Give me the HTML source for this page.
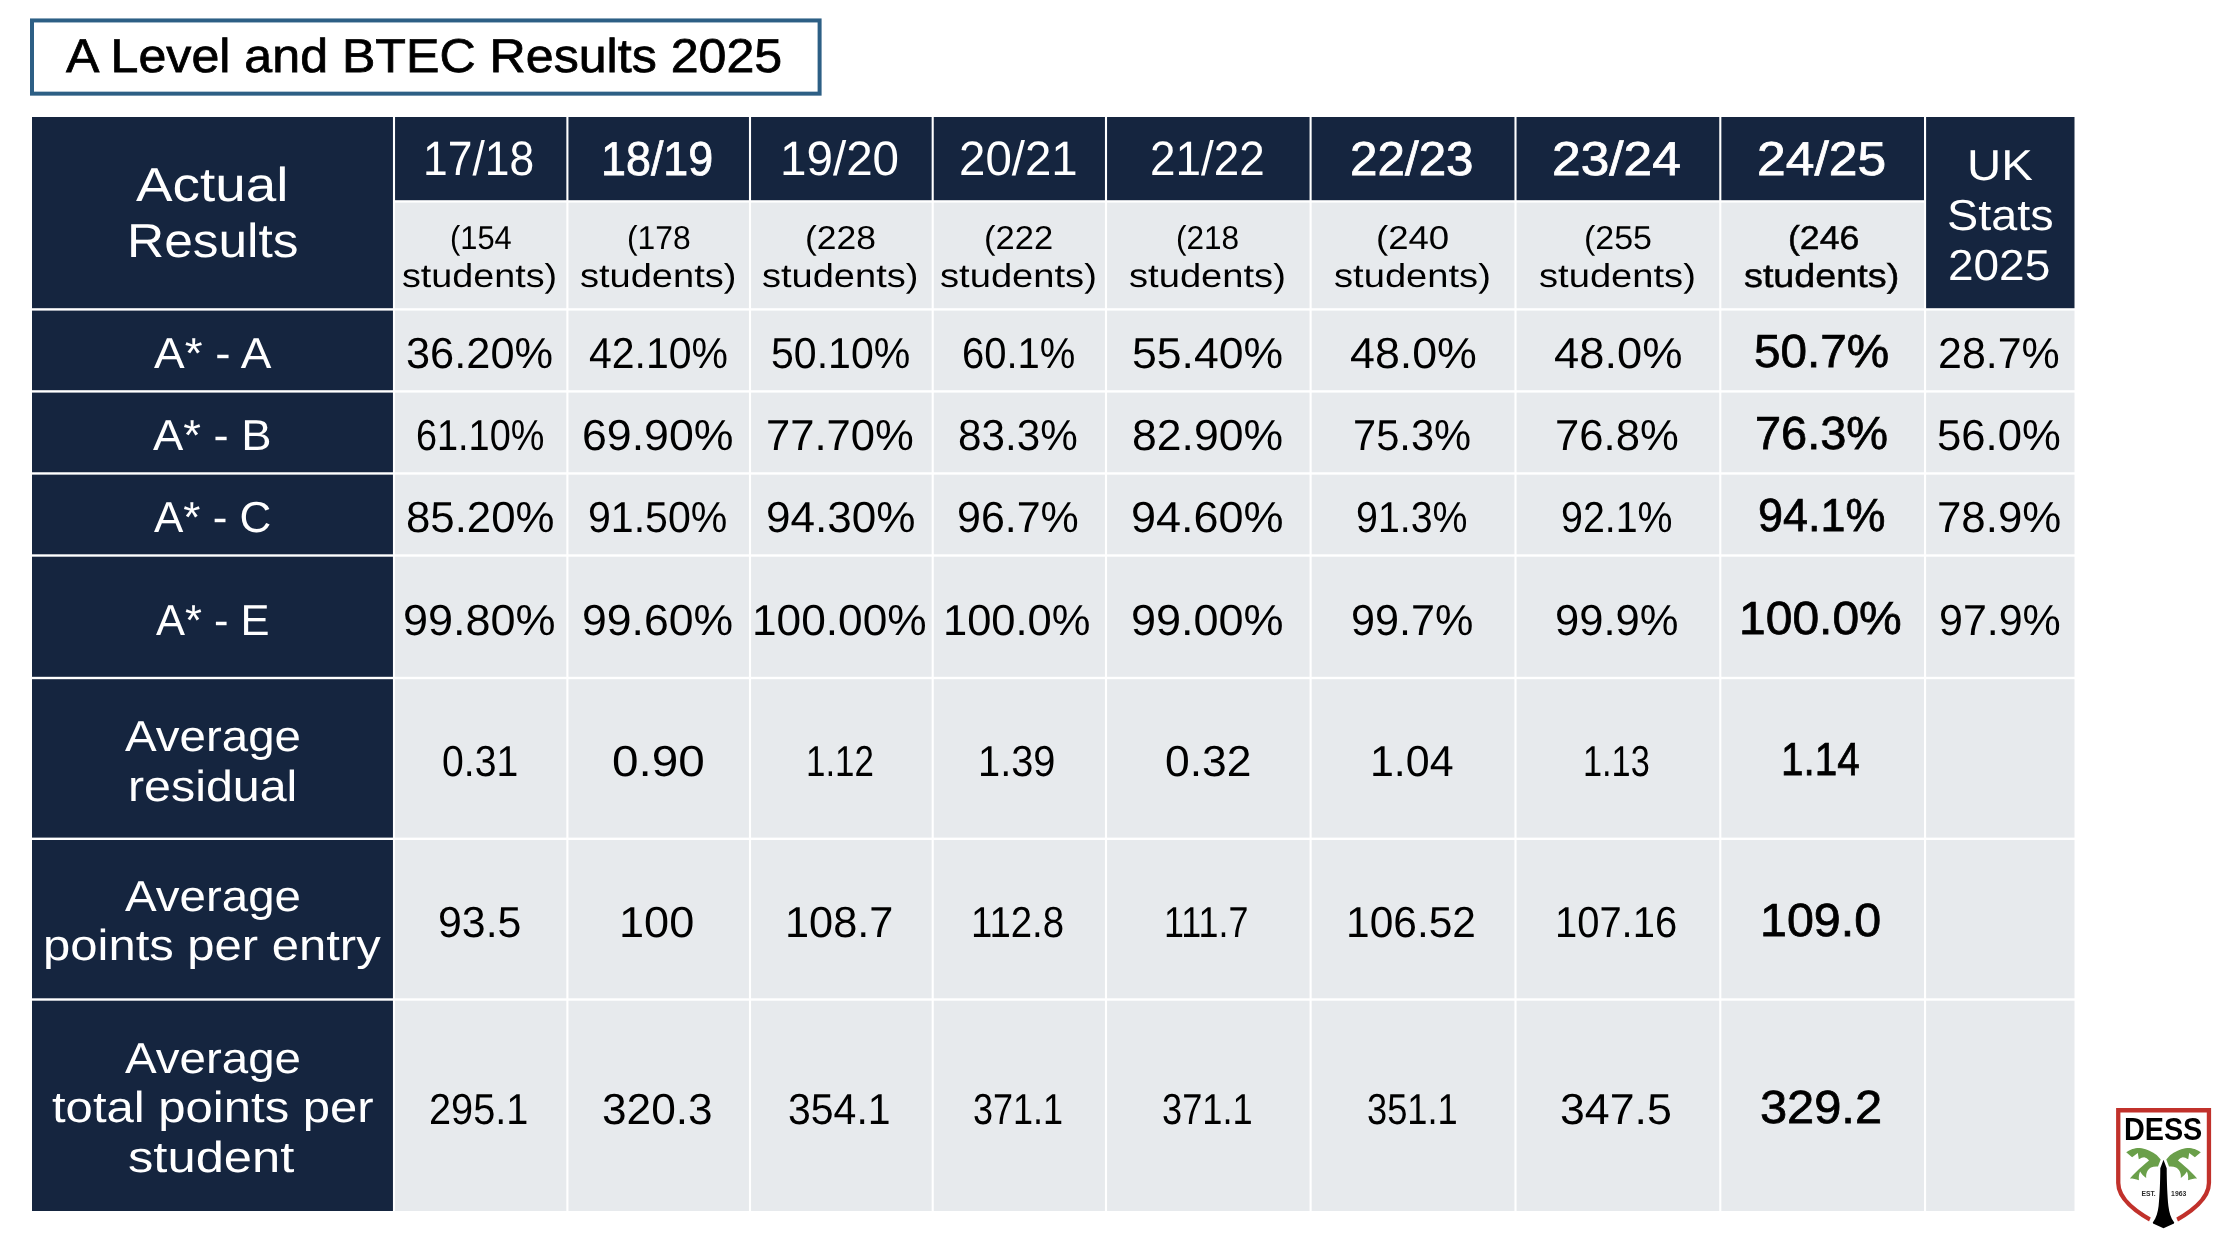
<!DOCTYPE html>
<html lang="en"><head><meta charset="utf-8">
<title>A Level and BTEC Results 2025</title>
<style>
html,body{margin:0;padding:0;background:#fff;}
body{width:2226px;height:1246px;position:relative;font-family:"Liberation Sans", sans-serif;}
.slide{position:absolute;left:0;top:0;width:2226px;height:1246px;background:#fff;overflow:hidden;}
.grid{position:absolute;left:0;top:0;}
.t{position:absolute;white-space:nowrap;line-height:0;transform-origin:0 0;margin:0;padding:0;font-weight:400;text-rendering:geometricPrecision;}.t i{display:inline-block;width:0;height:60px;vertical-align:baseline;}.m{-webkit-text-stroke:0.75px currentColor;}.m2{-webkit-text-stroke:0.5px currentColor;}
.w{color:#fff;}
.labels{position:absolute;left:0;top:0;width:2226px;height:1246px;will-change:transform;}
.logo{position:absolute;left:2106px;top:1098px;}
</style></head><body>
<div class="slide">
<svg class="grid" width="2226" height="1246" viewBox="0 0 2226 1246">
<rect x="32.0" y="20.45" width="787.6" height="73.2" fill="#fff" stroke="#2d5f85" stroke-width="4.0"/>
<rect x="32.00" y="117.00" width="360.95" height="191.20" fill="#15253f"/>
<rect x="1926.10" y="117.00" width="148.40" height="191.20" fill="#15253f"/>
<rect x="395.05" y="117.00" width="171.30" height="83.20" fill="#15253f"/>
<rect x="395.05" y="202.60" width="171.30" height="105.60" fill="#e7eaed"/>
<rect x="568.45" y="117.00" width="180.50" height="83.20" fill="#15253f"/>
<rect x="568.45" y="202.60" width="180.50" height="105.60" fill="#e7eaed"/>
<rect x="751.05" y="117.00" width="180.60" height="83.20" fill="#15253f"/>
<rect x="751.05" y="202.60" width="180.60" height="105.60" fill="#e7eaed"/>
<rect x="933.75" y="117.00" width="171.20" height="83.20" fill="#15253f"/>
<rect x="933.75" y="202.60" width="171.20" height="105.60" fill="#e7eaed"/>
<rect x="1107.05" y="117.00" width="202.50" height="83.20" fill="#15253f"/>
<rect x="1107.05" y="202.60" width="202.50" height="105.60" fill="#e7eaed"/>
<rect x="1311.65" y="117.00" width="202.80" height="83.20" fill="#15253f"/>
<rect x="1311.65" y="202.60" width="202.80" height="105.60" fill="#e7eaed"/>
<rect x="1516.55" y="117.00" width="202.70" height="83.20" fill="#15253f"/>
<rect x="1516.55" y="202.60" width="202.70" height="105.60" fill="#e7eaed"/>
<rect x="1721.35" y="117.00" width="202.65" height="83.20" fill="#15253f"/>
<rect x="1721.35" y="202.60" width="202.65" height="105.60" fill="#e7eaed"/>
<rect x="32.00" y="310.60" width="360.95" height="79.60" fill="#15253f"/>
<rect x="395.05" y="310.60" width="171.30" height="79.60" fill="#e7eaed"/>
<rect x="568.45" y="310.60" width="180.50" height="79.60" fill="#e7eaed"/>
<rect x="751.05" y="310.60" width="180.60" height="79.60" fill="#e7eaed"/>
<rect x="933.75" y="310.60" width="171.20" height="79.60" fill="#e7eaed"/>
<rect x="1107.05" y="310.60" width="202.50" height="79.60" fill="#e7eaed"/>
<rect x="1311.65" y="310.60" width="202.80" height="79.60" fill="#e7eaed"/>
<rect x="1516.55" y="310.60" width="202.70" height="79.60" fill="#e7eaed"/>
<rect x="1721.35" y="310.60" width="202.65" height="79.60" fill="#e7eaed"/>
<rect x="1926.10" y="310.60" width="148.40" height="79.60" fill="#e7eaed"/>
<rect x="32.00" y="392.60" width="360.95" height="79.65" fill="#15253f"/>
<rect x="395.05" y="392.60" width="171.30" height="79.65" fill="#e7eaed"/>
<rect x="568.45" y="392.60" width="180.50" height="79.65" fill="#e7eaed"/>
<rect x="751.05" y="392.60" width="180.60" height="79.65" fill="#e7eaed"/>
<rect x="933.75" y="392.60" width="171.20" height="79.65" fill="#e7eaed"/>
<rect x="1107.05" y="392.60" width="202.50" height="79.65" fill="#e7eaed"/>
<rect x="1311.65" y="392.60" width="202.80" height="79.65" fill="#e7eaed"/>
<rect x="1516.55" y="392.60" width="202.70" height="79.65" fill="#e7eaed"/>
<rect x="1721.35" y="392.60" width="202.65" height="79.65" fill="#e7eaed"/>
<rect x="1926.10" y="392.60" width="148.40" height="79.65" fill="#e7eaed"/>
<rect x="32.00" y="474.65" width="360.95" height="79.65" fill="#15253f"/>
<rect x="395.05" y="474.65" width="171.30" height="79.65" fill="#e7eaed"/>
<rect x="568.45" y="474.65" width="180.50" height="79.65" fill="#e7eaed"/>
<rect x="751.05" y="474.65" width="180.60" height="79.65" fill="#e7eaed"/>
<rect x="933.75" y="474.65" width="171.20" height="79.65" fill="#e7eaed"/>
<rect x="1107.05" y="474.65" width="202.50" height="79.65" fill="#e7eaed"/>
<rect x="1311.65" y="474.65" width="202.80" height="79.65" fill="#e7eaed"/>
<rect x="1516.55" y="474.65" width="202.70" height="79.65" fill="#e7eaed"/>
<rect x="1721.35" y="474.65" width="202.65" height="79.65" fill="#e7eaed"/>
<rect x="1926.10" y="474.65" width="148.40" height="79.65" fill="#e7eaed"/>
<rect x="32.00" y="556.70" width="360.95" height="120.10" fill="#15253f"/>
<rect x="395.05" y="556.70" width="171.30" height="120.10" fill="#e7eaed"/>
<rect x="568.45" y="556.70" width="180.50" height="120.10" fill="#e7eaed"/>
<rect x="751.05" y="556.70" width="180.60" height="120.10" fill="#e7eaed"/>
<rect x="933.75" y="556.70" width="171.20" height="120.10" fill="#e7eaed"/>
<rect x="1107.05" y="556.70" width="202.50" height="120.10" fill="#e7eaed"/>
<rect x="1311.65" y="556.70" width="202.80" height="120.10" fill="#e7eaed"/>
<rect x="1516.55" y="556.70" width="202.70" height="120.10" fill="#e7eaed"/>
<rect x="1721.35" y="556.70" width="202.65" height="120.10" fill="#e7eaed"/>
<rect x="1926.10" y="556.70" width="148.40" height="120.10" fill="#e7eaed"/>
<rect x="32.00" y="679.20" width="360.95" height="158.40" fill="#15253f"/>
<rect x="395.05" y="679.20" width="171.30" height="158.40" fill="#e7eaed"/>
<rect x="568.45" y="679.20" width="180.50" height="158.40" fill="#e7eaed"/>
<rect x="751.05" y="679.20" width="180.60" height="158.40" fill="#e7eaed"/>
<rect x="933.75" y="679.20" width="171.20" height="158.40" fill="#e7eaed"/>
<rect x="1107.05" y="679.20" width="202.50" height="158.40" fill="#e7eaed"/>
<rect x="1311.65" y="679.20" width="202.80" height="158.40" fill="#e7eaed"/>
<rect x="1516.55" y="679.20" width="202.70" height="158.40" fill="#e7eaed"/>
<rect x="1721.35" y="679.20" width="202.65" height="158.40" fill="#e7eaed"/>
<rect x="1926.10" y="679.20" width="148.40" height="158.40" fill="#e7eaed"/>
<rect x="32.00" y="840.00" width="360.95" height="158.30" fill="#15253f"/>
<rect x="395.05" y="840.00" width="171.30" height="158.30" fill="#e7eaed"/>
<rect x="568.45" y="840.00" width="180.50" height="158.30" fill="#e7eaed"/>
<rect x="751.05" y="840.00" width="180.60" height="158.30" fill="#e7eaed"/>
<rect x="933.75" y="840.00" width="171.20" height="158.30" fill="#e7eaed"/>
<rect x="1107.05" y="840.00" width="202.50" height="158.30" fill="#e7eaed"/>
<rect x="1311.65" y="840.00" width="202.80" height="158.30" fill="#e7eaed"/>
<rect x="1516.55" y="840.00" width="202.70" height="158.30" fill="#e7eaed"/>
<rect x="1721.35" y="840.00" width="202.65" height="158.30" fill="#e7eaed"/>
<rect x="1926.10" y="840.00" width="148.40" height="158.30" fill="#e7eaed"/>
<rect x="32.00" y="1000.70" width="360.95" height="210.30" fill="#15253f"/>
<rect x="395.05" y="1000.70" width="171.30" height="210.30" fill="#e7eaed"/>
<rect x="568.45" y="1000.70" width="180.50" height="210.30" fill="#e7eaed"/>
<rect x="751.05" y="1000.70" width="180.60" height="210.30" fill="#e7eaed"/>
<rect x="933.75" y="1000.70" width="171.20" height="210.30" fill="#e7eaed"/>
<rect x="1107.05" y="1000.70" width="202.50" height="210.30" fill="#e7eaed"/>
<rect x="1311.65" y="1000.70" width="202.80" height="210.30" fill="#e7eaed"/>
<rect x="1516.55" y="1000.70" width="202.70" height="210.30" fill="#e7eaed"/>
<rect x="1721.35" y="1000.70" width="202.65" height="210.30" fill="#e7eaed"/>
<rect x="1926.10" y="1000.70" width="148.40" height="210.30" fill="#e7eaed"/>
</svg>
<div class="labels">
<div class="t m" style="left:66.38px;top:12px;font-size:47.4px;transform:scaleX(1.0578)"><i></i>A Level and BTEC Results 2025</div>
<div class="t w" style="left:135.59px;top:141px;font-size:47.7px;transform:scaleX(1.1493)"><i></i>Actual</div>
<div class="t w" style="left:127.07px;top:197px;font-size:47.7px;transform:scaleX(1.0788)"><i></i>Results</div>
<div class="t w" style="left:423.11px;top:115px;font-size:48.2px;transform:scaleX(0.9213)"><i></i>17/18</div>
<div class="t m w" style="left:600.50px;top:115px;font-size:47.6px;transform:scaleX(0.9425)"><i></i>18/19</div>
<div class="t w" style="left:780.37px;top:115px;font-size:48.2px;transform:scaleX(0.9873)"><i></i>19/20</div>
<div class="t w" style="left:958.60px;top:115px;font-size:48.2px;transform:scaleX(0.9847)"><i></i>20/21</div>
<div class="t w" style="left:1149.68px;top:115px;font-size:48.2px;transform:scaleX(0.9508)"><i></i>21/22</div>
<div class="t m w" style="left:1350.03px;top:115px;font-size:47.6px;transform:scaleX(1.0374)"><i></i>22/23</div>
<div class="t m w" style="left:1552.44px;top:115px;font-size:47.6px;transform:scaleX(1.0818)"><i></i>23/24</div>
<div class="t m w" style="left:1756.94px;top:115px;font-size:47.6px;transform:scaleX(1.0841)"><i></i>24/25</div>
<div class="t w" style="left:1967.40px;top:120px;font-size:43.4px;transform:scaleX(1.0911)"><i></i>UK</div>
<div class="t w" style="left:1946.54px;top:170px;font-size:43.4px;transform:scaleX(1.0772)"><i></i>Stats</div>
<div class="t w" style="left:1948.40px;top:220px;font-size:43.4px;transform:scaleX(1.0592)"><i></i>2025</div>
<div class="t" style="left:450.12px;top:189px;font-size:33.0px;transform:scaleX(0.9343)"><i></i>(154</div>
<div class="t" style="left:402.36px;top:227px;font-size:33.0px;transform:scaleX(1.1422)"><i></i>students)</div>
<div class="t" style="left:626.66px;top:189px;font-size:33.0px;transform:scaleX(0.9636)"><i></i>(178</div>
<div class="t" style="left:579.95px;top:227px;font-size:33.0px;transform:scaleX(1.1520)"><i></i>students)</div>
<div class="t" style="left:805.45px;top:189px;font-size:33.0px;transform:scaleX(1.0750)"><i></i>(228</div>
<div class="t" style="left:762.45px;top:227px;font-size:33.0px;transform:scaleX(1.1520)"><i></i>students)</div>
<div class="t" style="left:984.00px;top:189px;font-size:33.0px;transform:scaleX(1.0463)"><i></i>(222</div>
<div class="t" style="left:940.44px;top:227px;font-size:33.0px;transform:scaleX(1.1557)"><i></i>students)</div>
<div class="t" style="left:1176.18px;top:189px;font-size:33.0px;transform:scaleX(0.9556)"><i></i>(218</div>
<div class="t" style="left:1129.44px;top:227px;font-size:33.0px;transform:scaleX(1.1557)"><i></i>students)</div>
<div class="t" style="left:1375.88px;top:189px;font-size:33.0px;transform:scaleX(1.1082)"><i></i>(240</div>
<div class="t" style="left:1334.44px;top:227px;font-size:33.0px;transform:scaleX(1.1557)"><i></i>students)</div>
<div class="t" style="left:1583.53px;top:189px;font-size:33.0px;transform:scaleX(1.0294)"><i></i>(255</div>
<div class="t" style="left:1539.44px;top:227px;font-size:33.0px;transform:scaleX(1.1557)"><i></i>students)</div>
<div class="t m2" style="left:1787.72px;top:189px;font-size:33.0px;transform:scaleX(1.0791)"><i></i>(246</div>
<div class="t m2" style="left:1744.22px;top:227px;font-size:33.0px;transform:scaleX(1.1440)"><i></i>students)</div>
<div class="t w" style="left:153.63px;top:308px;font-size:43.4px;transform:scaleX(1.0585)"><i></i>A* - A</div>
<div class="t w" style="left:153.03px;top:390px;font-size:43.4px;transform:scaleX(1.0459)"><i></i>A* - B</div>
<div class="t w" style="left:153.65px;top:472px;font-size:43.4px;transform:scaleX(1.0141)"><i></i>A* - C</div>
<div class="t w" style="left:155.65px;top:575px;font-size:43.4px;transform:scaleX(1.0018)"><i></i>A* - E</div>
<div class="t w" style="left:124.62px;top:691px;font-size:43.4px;transform:scaleX(1.0939)"><i></i>Average</div>
<div class="t w" style="left:127.75px;top:741px;font-size:43.4px;transform:scaleX(1.1140)"><i></i>residual</div>
<div class="t w" style="left:124.62px;top:851px;font-size:43.4px;transform:scaleX(1.0939)"><i></i>Average</div>
<div class="t w" style="left:42.85px;top:900px;font-size:43.4px;transform:scaleX(1.1291)"><i></i>points per entry</div>
<div class="t w" style="left:124.62px;top:1013px;font-size:43.4px;transform:scaleX(1.0945)"><i></i>Average</div>
<div class="t w" style="left:51.65px;top:1062px;font-size:43.4px;transform:scaleX(1.1302)"><i></i>total points per</div>
<div class="t w" style="left:127.89px;top:1112px;font-size:43.4px;transform:scaleX(1.1685)"><i></i>student</div>
<div class="t" style="left:406.10px;top:308px;font-size:43.4px;transform:scaleX(0.9993)"><i></i>36.20%</div>
<div class="t" style="left:589.04px;top:308px;font-size:43.4px;transform:scaleX(0.9440)"><i></i>42.10%</div>
<div class="t" style="left:770.75px;top:308px;font-size:43.4px;transform:scaleX(0.9461)"><i></i>50.10%</div>
<div class="t" style="left:961.89px;top:308px;font-size:43.4px;transform:scaleX(0.9219)"><i></i>60.1%</div>
<div class="t" style="left:1132.10px;top:308px;font-size:43.4px;transform:scaleX(1.0261)"><i></i>55.40%</div>
<div class="t" style="left:1349.57px;top:308px;font-size:43.4px;transform:scaleX(1.0315)"><i></i>48.0%</div>
<div class="t" style="left:1553.55px;top:308px;font-size:43.4px;transform:scaleX(1.0439)"><i></i>48.0%</div>
<div class="t m" style="left:1754.24px;top:307px;font-size:46.4px;transform:scaleX(1.0275)"><i></i>50.7%</div>
<div class="t" style="left:1938.46px;top:308px;font-size:43.4px;transform:scaleX(0.9896)"><i></i>28.7%</div>
<div class="t" style="left:415.51px;top:390px;font-size:43.4px;transform:scaleX(0.8722)"><i></i>61.10%</div>
<div class="t" style="left:581.65px;top:390px;font-size:43.4px;transform:scaleX(1.0292)"><i></i>69.90%</div>
<div class="t" style="left:766.20px;top:390px;font-size:43.4px;transform:scaleX(1.0047)"><i></i>77.70%</div>
<div class="t" style="left:958.20px;top:390px;font-size:43.4px;transform:scaleX(0.9728)"><i></i>83.3%</div>
<div class="t" style="left:1132.10px;top:390px;font-size:43.4px;transform:scaleX(1.0260)"><i></i>82.90%</div>
<div class="t" style="left:1353.31px;top:390px;font-size:43.4px;transform:scaleX(0.9596)"><i></i>75.3%</div>
<div class="t" style="left:1554.70px;top:390px;font-size:43.4px;transform:scaleX(1.0057)"><i></i>76.8%</div>
<div class="t m" style="left:1755.08px;top:389px;font-size:46.4px;transform:scaleX(1.0119)"><i></i>76.3%</div>
<div class="t" style="left:1937.13px;top:390px;font-size:43.4px;transform:scaleX(1.0062)"><i></i>56.0%</div>
<div class="t" style="left:405.64px;top:472px;font-size:43.4px;transform:scaleX(1.0086)"><i></i>85.20%</div>
<div class="t" style="left:588.19px;top:472px;font-size:43.4px;transform:scaleX(0.9465)"><i></i>91.50%</div>
<div class="t" style="left:765.56px;top:472px;font-size:43.4px;transform:scaleX(1.0160)"><i></i>94.30%</div>
<div class="t" style="left:957.11px;top:472px;font-size:43.4px;transform:scaleX(0.9900)"><i></i>96.7%</div>
<div class="t" style="left:1131.02px;top:472px;font-size:43.4px;transform:scaleX(1.0369)"><i></i>94.60%</div>
<div class="t" style="left:1356.27px;top:472px;font-size:43.4px;transform:scaleX(0.9065)"><i></i>91.3%</div>
<div class="t" style="left:1561.27px;top:472px;font-size:43.4px;transform:scaleX(0.9065)"><i></i>92.1%</div>
<div class="t m" style="left:1757.78px;top:471px;font-size:46.4px;transform:scaleX(0.9681)"><i></i>94.1%</div>
<div class="t" style="left:1936.69px;top:472px;font-size:43.4px;transform:scaleX(1.0099)"><i></i>78.9%</div>
<div class="t" style="left:403.02px;top:575px;font-size:43.4px;transform:scaleX(1.0369)"><i></i>99.80%</div>
<div class="t" style="left:582.04px;top:575px;font-size:43.4px;transform:scaleX(1.0265)"><i></i>99.60%</div>
<div class="t" style="left:751.58px;top:575px;font-size:43.4px;transform:scaleX(1.0197)"><i></i>100.00%</div>
<div class="t" style="left:943.14px;top:575px;font-size:43.4px;transform:scaleX(1.0018)"><i></i>100.0%</div>
<div class="t" style="left:1131.02px;top:575px;font-size:43.4px;transform:scaleX(1.0369)"><i></i>99.00%</div>
<div class="t" style="left:1351.10px;top:575px;font-size:43.4px;transform:scaleX(0.9942)"><i></i>99.7%</div>
<div class="t" style="left:1555.08px;top:575px;font-size:43.4px;transform:scaleX(1.0026)"><i></i>99.9%</div>
<div class="t m" style="left:1738.97px;top:574px;font-size:46.4px;transform:scaleX(1.0345)"><i></i>100.0%</div>
<div class="t" style="left:1938.61px;top:575px;font-size:43.4px;transform:scaleX(0.9900)"><i></i>97.9%</div>
<div class="t" style="left:441.65px;top:716px;font-size:43.4px;transform:scaleX(0.9027)"><i></i>0.31</div>
<div class="t" style="left:611.62px;top:716px;font-size:43.4px;transform:scaleX(1.0987)"><i></i>0.90</div>
<div class="t" style="left:806.30px;top:716px;font-size:43.4px;transform:scaleX(0.8042)"><i></i>1.12</div>
<div class="t" style="left:978.42px;top:716px;font-size:43.4px;transform:scaleX(0.9171)"><i></i>1.39</div>
<div class="t" style="left:1164.75px;top:716px;font-size:43.4px;transform:scaleX(1.0235)"><i></i>0.32</div>
<div class="t" style="left:1369.68px;top:716px;font-size:43.4px;transform:scaleX(0.9889)"><i></i>1.04</div>
<div class="t" style="left:1582.85px;top:716px;font-size:43.4px;transform:scaleX(0.7896)"><i></i>1.13</div>
<div class="t m" style="left:1781.44px;top:715px;font-size:46.4px;transform:scaleX(0.8727)"><i></i>1.14</div>
<div class="t" style="left:437.91px;top:877px;font-size:43.4px;transform:scaleX(0.9876)"><i></i>93.5</div>
<div class="t" style="left:619.01px;top:877px;font-size:43.4px;transform:scaleX(1.0392)"><i></i>100</div>
<div class="t" style="left:785.15px;top:877px;font-size:43.4px;transform:scaleX(0.9983)"><i></i>108.7</div>
<div class="t" style="left:971.03px;top:877px;font-size:43.4px;transform:scaleX(0.8834)"><i></i>112.8</div>
<div class="t" style="left:1163.73px;top:877px;font-size:43.4px;transform:scaleX(0.8265)"><i></i>111.7</div>
<div class="t" style="left:1346.21px;top:877px;font-size:43.4px;transform:scaleX(0.9790)"><i></i>106.52</div>
<div class="t" style="left:1554.91px;top:877px;font-size:43.4px;transform:scaleX(0.9201)"><i></i>107.16</div>
<div class="t m" style="left:1759.94px;top:876px;font-size:46.4px;transform:scaleX(1.0426)"><i></i>109.0</div>
<div class="t" style="left:428.93px;top:1064px;font-size:43.4px;transform:scaleX(0.9153)"><i></i>295.1</div>
<div class="t" style="left:602.16px;top:1064px;font-size:43.4px;transform:scaleX(1.0195)"><i></i>320.3</div>
<div class="t" style="left:788.30px;top:1064px;font-size:43.4px;transform:scaleX(0.9446)"><i></i>354.1</div>
<div class="t" style="left:972.51px;top:1064px;font-size:43.4px;transform:scaleX(0.8301)"><i></i>371.1</div>
<div class="t" style="left:1161.50px;top:1064px;font-size:43.4px;transform:scaleX(0.8349)"><i></i>371.1</div>
<div class="t" style="left:1366.50px;top:1064px;font-size:43.4px;transform:scaleX(0.8349)"><i></i>351.1</div>
<div class="t" style="left:1560.14px;top:1064px;font-size:43.4px;transform:scaleX(1.0306)"><i></i>347.5</div>
<div class="t m" style="left:1760.39px;top:1063px;font-size:46.4px;transform:scaleX(1.0513)"><i></i>329.2</div>
</div>
<svg class="logo" style="will-change:transform" width="116" height="140" viewBox="0 0 116 140" role="img" aria-label="DESS logo">
<path d="M12.25,12.25 H102.95 V85 C102.95,99 88.2,114 57.6,128.8 C27,114 12.25,99 12.25,85 Z" fill="#fff" stroke="#c1312b" stroke-width="4.3" stroke-linejoin="miter"/>
<polygon points="45.8,117 69.2,117 72.6,125 57.5,135 42.4,125" fill="#fff"/>
<path d="M57.5,61.8 L60.7,70.2 C60.8,85 61.4,98 62.4,108 C63.2,114 64.5,119.5 68.2,124.6 L68,125.4 L57.5,130.2 L47,125.4 L46.8,124.6 C50.5,119.5 51.8,114 52.6,108 C53.6,98 54.2,85 54.3,70.2 Z" fill="#000"/>
<path d="M54.7,61.6 C52.5,58.5 51,57.2 49.5,56.2 C46.5,54 44,52.8 41.6,51.9 C39,51 36.5,50.2 33.7,50 C31,49.9 28.5,50.4 26.4,51.1 C24,51.9 22,53 20.2,54.2 L26.1,59.2 L31.8,55.1 L32.8,61.3 C35,60 36.5,59.4 38.2,59.3 C40,59.6 41.5,60.8 43,62.6 C40.5,64.5 38.2,66.5 36,68.6 C33.8,70.4 31.8,72.2 29.8,74.2 C27.7,76.2 25.8,78.3 23.9,80.6 C27,80.6 30,81.2 32.9,82.3 C32.6,79 33,76 34.1,73.6 C35.5,76.2 37.5,78.4 40.2,80 C40,77.6 40.3,75.4 41.2,73.6 C42.1,71.8 43.3,70.4 45,69.5 C47,68.6 49.4,68.4 52,68.6 Z" fill="#6a9f4a"/>
<path d="M54.7,61.6 C52.5,58.5 51,57.2 49.5,56.2 C46.5,54 44,52.8 41.6,51.9 C39,51 36.5,50.2 33.7,50 C31,49.9 28.5,50.4 26.4,51.1 C24,51.9 22,53 20.2,54.2 L26.1,59.2 L31.8,55.1 L32.8,61.3 C35,60 36.5,59.4 38.2,59.3 C40,59.6 41.5,60.8 43,62.6 C40.5,64.5 38.2,66.5 36,68.6 C33.8,70.4 31.8,72.2 29.8,74.2 C27.7,76.2 25.8,78.3 23.9,80.6 C27,80.6 30,81.2 32.9,82.3 C32.6,79 33,76 34.1,73.6 C35.5,76.2 37.5,78.4 40.2,80 C40,77.6 40.3,75.4 41.2,73.6 C42.1,71.8 43.3,70.4 45,69.5 C47,68.6 49.4,68.4 52,68.6 Z" fill="#6a9f4a" transform="translate(115,0) scale(-1,1)"/>
<text x="17.9" y="42.1" font-family="'Liberation Sans', sans-serif" font-weight="700" font-size="31" textLength="78.4" lengthAdjust="spacingAndGlyphs" fill="#000">DESS</text>
<text x="35.4" y="97.8" font-family="'Liberation Sans', sans-serif" font-weight="700" font-size="6.8" textLength="14.3" lengthAdjust="spacingAndGlyphs" fill="#2a2a2a">EST.</text>
<text x="65.1" y="97.8" font-family="'Liberation Sans', sans-serif" font-weight="700" font-size="6.8" textLength="15.2" lengthAdjust="spacingAndGlyphs" fill="#2a2a2a">1963</text>
</svg>

</div></body></html>
